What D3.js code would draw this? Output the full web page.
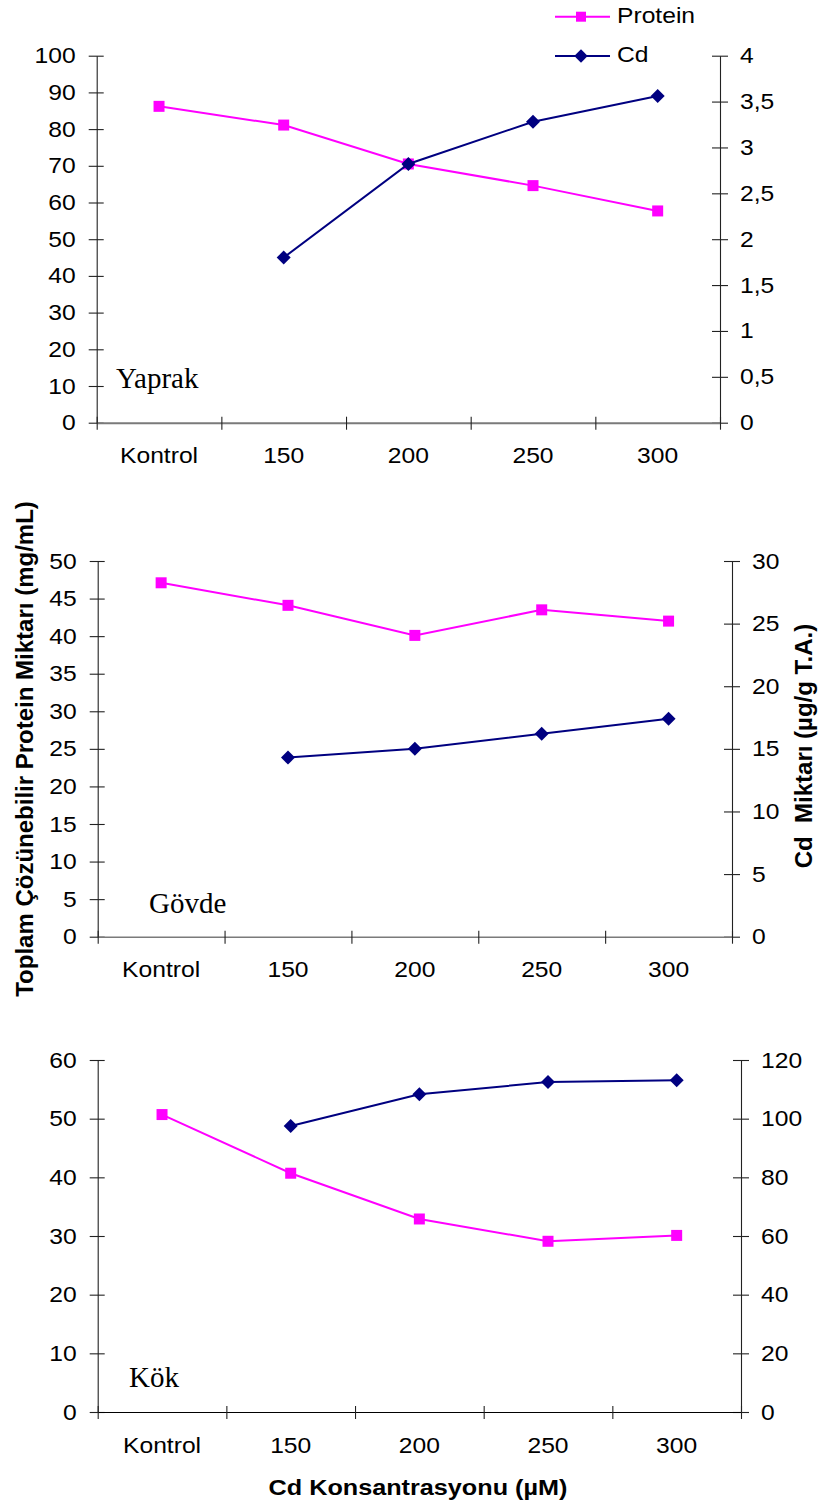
<!DOCTYPE html>
<html>
<head>
<meta charset="utf-8">
<script src="https://d3js.org/d3.v7.min.js"></script>
<style>
  html, body { margin: 0; padding: 0; background: #fff; }
  svg { display: block; }
  text { font-family: "Liberation Sans", Arial, sans-serif; fill: #000; }
</style>
</head>
<body>
<svg id="chart" width="819" height="1505"></svg>
<script>
// Treatment groups (Cd concentration, µM)
const categories = ["Kontrol", "150", "200", "250", "300"];

// Yaprak (leaf)
const proteinLeaf = [86.2, 81.1, 70.5, 64.6, 57.7];
const cdLeaf = [null, 1.80, 2.82, 3.28, 3.56];
const leafLeftTicks = [0, 10, 20, 30, 40, 50, 60, 70, 80, 90, 100];
const leafRightTicks = [0, 0.5, 1, 1.5, 2, 2.5, 3, 3.5, 4];

// Gövde (stem)
const proteinStem = [47.1, 44.1, 40.1, 43.5, 42.0];
const cdStem = [null, 14.3, 15.0, 16.2, 17.4];
const stemLeftTicks = [0, 5, 10, 15, 20, 25, 30, 35, 40, 45, 50];
const stemRightTicks = [0, 5, 10, 15, 20, 25, 30];

// Kök (root)
const proteinRoot = [50.7, 40.7, 32.9, 29.1, 30.1];
const cdRoot = [null, 97.5, 108.3, 112.5, 113.1];
const rootLeftTicks = [0, 10, 20, 30, 40, 50, 60];
const rootRightTicks = [0, 20, 40, 60, 80, 100, 120];

const seriesNames = ["Protein", "Cd"];
const PROTEIN_COLOR = "#FF00FF";
const CD_COLOR = "#000080";
const STRETCH = 1.12;

const svg = d3.select("#chart");
const commaFmt = v => String(v).replace(".", ",");

const panels = [
  { name: "Yaprak", protein: proteinLeaf, cd: cdLeaf, lt: leafLeftTicks, rt: leafRightTicks,
    x0: 96.7, x1: 720, yTop: 55.7, yBot: 422.7, xAxisColor: "#7a7a7a", xAxisW: 2,
    label: [116, 388], labelPad: 40 },
  { name: "Gövde", protein: proteinStem, cd: cdStem, lt: stemLeftTicks, rt: stemRightTicks,
    x0: 97.7, x1: 732, yTop: 561, yBot: 936.7, xAxisColor: "#7a7a7a", xAxisW: 1.6,
    label: [149, 913], labelPad: 40 },
  { name: "Kök", protein: proteinRoot, cd: cdRoot, lt: rootLeftTicks, rt: rootRightTicks,
    x0: 97.7, x1: 741, yTop: 1060, yBot: 1412, xAxisColor: "#000", xAxisW: 1.2,
    label: [129, 1387], labelPad: 41 }
];

function styleYAxis(g, inner, outer) {
  g.select(".domain").attr("stroke", "#222").attr("stroke-width", 1.1);
  g.selectAll(".tick line").attr("stroke", "#222").attr("stroke-width", 1.1)
    .attr("x1", inner).attr("x2", outer);
  g.selectAll(".tick text").attr("font-size", 22).classed("stretch", true);
}

// square marker; rotated 45° it becomes the diamond marker
const square = d3.symbol(d3.symbolSquare, 121);
const diamondBase = d3.symbol(d3.symbolSquare, 98);

panels.forEach(p => {
  const g = svg.append("g");
  const xBand = d3.scaleBand().domain(categories).range([p.x0, p.x1]).padding(0);
  const xEdge = d3.scaleLinear().domain([0, categories.length]).range([p.x0, p.x1]);
  const yL = d3.scaleLinear().domain([p.lt[0], p.lt[p.lt.length - 1]]).range([p.yBot, p.yTop]);
  const yR = d3.scaleLinear().domain([p.rt[0], p.rt[p.rt.length - 1]]).range([p.yBot, p.yTop]);

  // left axis
  const gl = g.append("g").attr("transform", `translate(${p.x0},0)`)
    .call(d3.axisLeft(yL).tickValues(p.lt).tickSize(8).tickSizeOuter(0).tickPadding(13)
      .tickFormat(d3.format("d")));
  styleYAxis(gl, 7, -8);

  // right axis
  const gr = g.append("g").attr("transform", `translate(${p.x1},0)`)
    .call(d3.axisRight(yR).tickValues(p.rt).tickSize(8).tickSizeOuter(0).tickPadding(12)
      .tickFormat(commaFmt));
  styleYAxis(gr, -8, 8);

  // category axis: boundary ticks
  const gx = g.append("g").attr("transform", `translate(0,${p.yBot})`)
    .call(d3.axisBottom(xEdge).tickValues(d3.range(categories.length + 1)).tickSize(7)
      .tickSizeOuter(0).tickFormat(""));
  gx.select(".domain").attr("stroke", p.xAxisColor).attr("stroke-width", p.xAxisW);
  gx.selectAll(".tick line").attr("stroke", "#222").attr("stroke-width", 1.1).attr("y1", -6).attr("y2", 7);

  // category labels at band centres
  const gxl = g.append("g").attr("transform", `translate(0,${p.yBot})`)
    .call(d3.axisBottom(xBand).tickSize(0).tickPadding(p.labelPad));
  gxl.select(".domain").remove();
  gxl.selectAll(".tick text").attr("font-size", 22).attr("dy", 0).classed("stretch", true);

  const cx = d => xBand(d) + xBand.bandwidth() / 2;

  // protein line (left axis)
  const protData = categories.map((c, i) => ({ c, v: p.protein[i] }));
  g.append("path").datum(protData)
    .attr("fill", "none").attr("stroke", PROTEIN_COLOR).attr("stroke-width", 2)
    .attr("d", d3.line().x(d => cx(d.c)).y(d => yL(d.v)));
  g.selectAll(".pm").data(protData).enter().append("path")
    .attr("transform", d => `translate(${cx(d.c)},${yL(d.v)})`)
    .attr("d", square())
    .attr("fill", PROTEIN_COLOR);

  // Cd line (right axis)
  const cdData = categories.map((c, i) => ({ c, v: p.cd[i] })).filter(d => d.v != null);
  g.append("path").datum(cdData)
    .attr("fill", "none").attr("stroke", CD_COLOR).attr("stroke-width", 2)
    .attr("d", d3.line().x(d => cx(d.c)).y(d => yR(d.v)));
  g.selectAll(".cm").data(cdData).enter().append("path")
    .attr("transform", d => `translate(${cx(d.c)},${yR(d.v)}) rotate(45)`)
    .attr("d", diamondBase())
    .attr("fill", CD_COLOR);

  // panel name
  g.append("text").attr("x", p.label[0]).attr("y", p.label[1])
    .style("font-family", "'Liberation Serif', 'Times New Roman', serif")
    .attr("font-size", 29).text(p.name);
});

// legend
const legend = svg.append("g");
const legendRows = [
  { name: seriesNames[0], color: PROTEIN_COLOR, sym: d3.symbol(d3.symbolSquare, 100), rot: 0, y: 16.7 },
  { name: seriesNames[1], color: CD_COLOR, sym: d3.symbol(d3.symbolSquare, 90), rot: 45, y: 56 }
];
legendRows.forEach(r => {
  legend.append("line").attr("x1", 555).attr("x2", 610).attr("y1", r.y).attr("y2", r.y)
    .attr("stroke", r.color).attr("stroke-width", 2);
  legend.append("path").attr("transform", `translate(581,${r.y}) rotate(${r.rot})`)
    .attr("d", r.sym()).attr("fill", r.color);
  legend.append("text").attr("x", 617).attr("y", r.y + 6).attr("font-size", 22)
    .classed("stretch", true).text(r.name);
});

// axis titles
svg.append("text")
  .attr("transform", "translate(33,749) rotate(-90)")
  .attr("text-anchor", "middle").attr("font-size", 24).attr("font-weight", "bold")
  .text("Toplam Çözünebilir Protein Miktarı (mg/mL)");

svg.append("text")
  .attr("transform", "translate(812,746) rotate(-90)")
  .attr("text-anchor", "middle").attr("font-size", 24).attr("font-weight", "bold")
  .style("white-space", "pre")
  .text("Cd  Miktarı (µg/g T.A.)");

svg.append("text")
  .attr("x", 418).attr("y", 1495)
  .attr("text-anchor", "middle").attr("font-size", 22.5).attr("font-weight", "bold")
  .classed("stretch", true)
  .text("Cd Konsantrasyonu (µM)");

// widen the sans-serif labels slightly
svg.selectAll("text.stretch").each(function () {
  const len = this.getComputedTextLength();
  d3.select(this).attr("textLength", len * STRETCH).attr("lengthAdjust", "spacingAndGlyphs");
});
</script>
</body>
</html>
